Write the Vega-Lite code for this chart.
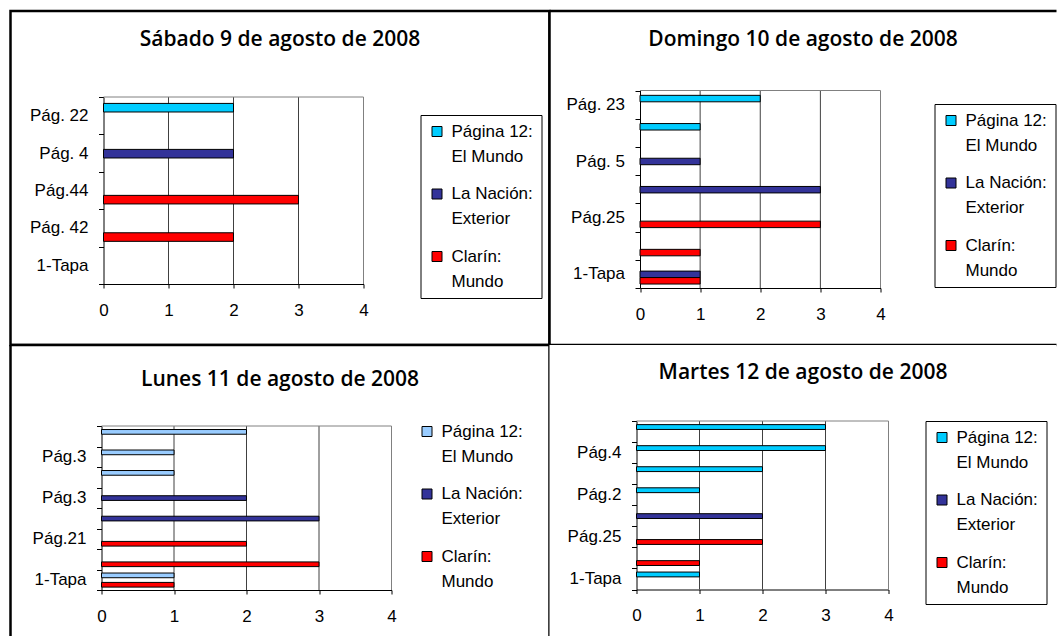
{
  "$schema": "https://vega.github.io/schema/vega-lite/v6.json",
  "background": "white",
  "padding": {"left": 8.5, "top": 0, "right": 0, "bottom": 0},
  "bounds": "flush",
  "spacing": 0,
  "columns": 2,
  "resolve": {
    "scale": {"color": "independent", "x": "independent", "y": "independent", "yOffset": "independent"},
    "legend": {"color": "independent"}
  },
  "data": {"values": [
    {"day": "sab", "cat": "1|Pág. 22", "series": "Página 12: El Mundo", "count": 2},
    {"day": "sab", "cat": "2|Pág. 4", "series": "La Nación: Exterior", "count": 2},
    {"day": "sab", "cat": "3|Pág.44", "series": "Clarín: Mundo", "count": 3},
    {"day": "sab", "cat": "4|Pág. 42", "series": "Clarín: Mundo", "count": 2},

    {"day": "dom", "cat": "1|Pág. 23", "series": "Página 12: El Mundo", "count": 2},
    {"day": "dom", "cat": "2|", "series": "Página 12: El Mundo", "count": 1},
    {"day": "dom", "cat": "3|Pág. 5", "series": "La Nación: Exterior", "count": 1},
    {"day": "dom", "cat": "4|", "series": "La Nación: Exterior", "count": 3},
    {"day": "dom", "cat": "5|Pág.25", "series": "Clarín: Mundo", "count": 3},
    {"day": "dom", "cat": "6|", "series": "Clarín: Mundo", "count": 1},
    {"day": "dom", "cat": "7|1-Tapa", "series": "La Nación: Exterior", "count": 1},
    {"day": "dom", "cat": "7|1-Tapa", "series": "Clarín: Mundo", "count": 1},

    {"day": "lun", "cat": "1|", "series": "Página 12: El Mundo", "count": 2},
    {"day": "lun", "cat": "2|Pág.3", "series": "Página 12: El Mundo", "count": 1},
    {"day": "lun", "cat": "3|", "series": "Página 12: El Mundo", "count": 1},
    {"day": "lun", "cat": "4|Pág.3", "series": "La Nación: Exterior", "count": 2},
    {"day": "lun", "cat": "5|", "series": "La Nación: Exterior", "count": 3},
    {"day": "lun", "cat": "6|Pág.21", "series": "Clarín: Mundo", "count": 2},
    {"day": "lun", "cat": "7|", "series": "Clarín: Mundo", "count": 3},
    {"day": "lun", "cat": "8|1-Tapa", "series": "Página 12: El Mundo", "count": 1},
    {"day": "lun", "cat": "8|1-Tapa", "series": "Clarín: Mundo", "count": 1},

    {"day": "mar", "cat": "1|", "series": "Página 12: El Mundo", "count": 3},
    {"day": "mar", "cat": "2|Pág.4", "series": "Página 12: El Mundo", "count": 3},
    {"day": "mar", "cat": "3|", "series": "Página 12: El Mundo", "count": 2},
    {"day": "mar", "cat": "4|Pág.2", "series": "Página 12: El Mundo", "count": 1},
    {"day": "mar", "cat": "5|", "series": "La Nación: Exterior", "count": 2},
    {"day": "mar", "cat": "6|Pág.25", "series": "Clarín: Mundo", "count": 2},
    {"day": "mar", "cat": "7|", "series": "Clarín: Mundo", "count": 1},
    {"day": "mar", "cat": "8|1-Tapa", "series": "Página 12: El Mundo", "count": 1}
  ]},
  "concat": [
    {
      "width": 539, "height": 334,
      "view": {"stroke": "black", "strokeWidth": 2.5, "fill": "white"},
      "title": {"text": "Sábado 9 de agosto de 2008", "offset": -48},
      "layer": [
        {
          "data": {"values": [{"g": 1}, {"g": 2}, {"g": 3}, {"g": 4}]},
          "mark": {"type": "rule", "strokeWidth": 1},
          "encoding": {
            "x": {"field": "g", "type": "quantitative", "title": null},
            "y": {"datum": "1|Pág. 22", "type": "nominal", "bandPosition": 0, "title": null},
            "y2": {"datum": "5|1-Tapa", "bandPosition": 1},
            "color": {"condition": {"test": "datum.g === 4", "value": "#808080"}, "value": "#404040"}
          }
        },
        {
          "data": {"values": [{}]},
          "mark": {"type": "rule", "color": "#808080", "strokeWidth": 1},
          "encoding": {
            "y": {"datum": "1|Pág. 22", "type": "nominal", "bandPosition": 0, "title": null},
            "x": {"datum": 0, "type": "quantitative", "title": null},
            "x2": {"datum": 4}
          }
        },
        {
          "transform": [{"filter": "datum.day === 'sab'"}],
          "mark": {"type": "bar", "stroke": "black", "strokeWidth": 1},
          "encoding": {
            "x": {"field": "count", "type": "quantitative",
                  "scale": {"domain": [0, 4], "range": [93, 353], "nice": false},
                  "axis": {"title": null, "offset": -61, "values": [0, 1, 2, 3, 4], "format": "d", "grid": false, "labelFlush": false, "labelOverlap": false}},
            "y": {"field": "cat", "type": "nominal",
                  "scale": {"domain": ["1|Pág. 22", "2|Pág. 4", "3|Pág.44", "4|Pág. 42", "5|1-Tapa"], "range": [86, 273], "paddingInner": 0, "paddingOuter": 0},
                  "axis": {"title": null, "offset": -93, "tickBand": "extent", "labelExpr": "split(datum.value, '|')[1]", "labelOverlap": false}},
            "yOffset": {"field": "series", "type": "nominal",
                  "scale": {"domain": ["Página 12: El Mundo", "La Nación: Exterior", "Clarín: Mundo"], "paddingInner": 0, "paddingOuter": 0.68, "align": 0.55}},
            "color": {"field": "series", "type": "nominal",
                  "scale": {"domain": ["Página 12: El Mundo", "La Nación: Exterior", "Clarín: Mundo"], "range": ["#00CCFF", "#333399", "#FF0000"]},
                  "legend": {"title": null, "orient": "none", "legendX": 410, "legendY": 104,
                             "labelExpr": "[split(datum.label, ': ')[0] + ':', split(datum.label, ': ')[1]]"}}
          }
        }
      ]
    },
    {
      "width": 507, "height": 334,
      "view": {"stroke": "black", "strokeWidth": 2.5, "fill": "white", "strokeDash": [507, 334, 841, 0]},
      "title": {"text": "Domingo 10 de agosto de 2008", "offset": -48},
      "layer": [
        {
          "data": {"values": [{"g": 1}, {"g": 2}, {"g": 3}, {"g": 4}]},
          "mark": {"type": "rule", "strokeWidth": 1},
          "encoding": {
            "x": {"field": "g", "type": "quantitative", "title": null},
            "y": {"datum": "1|Pág. 23", "type": "nominal", "bandPosition": 0, "title": null},
            "y2": {"datum": "7|1-Tapa", "bandPosition": 1},
            "color": {"condition": {"test": "datum.g === 4", "value": "#808080"}, "value": "#404040"}
          }
        },
        {
          "data": {"values": [{}]},
          "mark": {"type": "rule", "color": "#808080", "strokeWidth": 1},
          "encoding": {
            "y": {"datum": "1|Pág. 23", "type": "nominal", "bandPosition": 0, "title": null},
            "x": {"datum": 0, "type": "quantitative", "title": null},
            "x2": {"datum": 4}
          }
        },
        {
          "transform": [{"filter": "datum.day === 'dom'"}],
          "mark": {"type": "bar", "stroke": "black", "strokeWidth": 1},
          "encoding": {
            "x": {"field": "count", "type": "quantitative",
                  "scale": {"domain": [0, 4], "range": [90.5, 331], "nice": false},
                  "axis": {"title": null, "offset": -57, "values": [0, 1, 2, 3, 4], "format": "d", "grid": false, "labelFlush": false, "labelOverlap": false}},
            "y": {"field": "cat", "type": "nominal",
                  "scale": {"domain": ["1|Pág. 23", "2|", "3|Pág. 5", "4|", "5|Pág.25", "6|", "7|1-Tapa"], "range": [79.5, 277], "paddingInner": 0, "paddingOuter": 0},
                  "axis": {"title": null, "offset": -90.5, "tickBand": "extent", "labelExpr": "split(datum.value, '|')[1]", "labelOverlap": false}},
            "yOffset": {"field": "series", "type": "nominal",
                  "scale": {"domain": ["Página 12: El Mundo", "La Nación: Exterior", "Clarín: Mundo"], "paddingInner": 0, "paddingOuter": 0.68, "align": 0.55}},
            "color": {"field": "series", "type": "nominal",
                  "scale": {"domain": ["Página 12: El Mundo", "La Nación: Exterior", "Clarín: Mundo"], "range": ["#00CCFF", "#333399", "#FF0000"]},
                  "legend": {"title": null, "orient": "none", "legendX": 385, "legendY": 93,
                             "labelExpr": "[split(datum.label, ': ')[0] + ':', split(datum.label, ': ')[1]]"}}
          }
        }
      ]
    },
    {
      "width": 539, "height": 291,
      "view": {"stroke": "black", "strokeWidth": 2.5, "fill": "white", "strokeDash": [830, 539, 291, 0]},
      "title": {"text": "Lunes 11 de agosto de 2008", "offset": -54},
      "layer": [
        {
          "data": {"values": [{"g": 1}, {"g": 2}, {"g": 3}, {"g": 4}]},
          "mark": {"type": "rule", "strokeWidth": 1},
          "encoding": {
            "x": {"field": "g", "type": "quantitative", "title": null},
            "y": {"datum": "1|", "type": "nominal", "bandPosition": 0, "title": null},
            "y2": {"datum": "8|1-Tapa", "bandPosition": 1},
            "color": {"condition": {"test": "datum.g === 4", "value": "#808080"}, "value": "#404040"}
          }
        },
        {
          "data": {"values": [{}]},
          "mark": {"type": "rule", "color": "#808080", "strokeWidth": 1},
          "encoding": {
            "y": {"datum": "1|", "type": "nominal", "bandPosition": 0, "title": null},
            "x": {"datum": 0, "type": "quantitative", "title": null},
            "x2": {"datum": 4}
          }
        },
        {
          "transform": [{"filter": "datum.day === 'lun'"}],
          "mark": {"type": "bar", "stroke": "black", "strokeWidth": 1},
          "encoding": {
            "x": {"field": "count", "type": "quantitative",
                  "scale": {"domain": [0, 4], "range": [91, 381], "nice": false},
                  "axis": {"title": null, "offset": -46, "values": [0, 1, 2, 3, 4], "format": "d", "grid": false, "labelFlush": false, "labelOverlap": false}},
            "y": {"field": "cat", "type": "nominal",
                  "scale": {"domain": ["1|", "2|Pág.3", "3|", "4|Pág.3", "5|", "6|Pág.21", "7|", "8|1-Tapa"], "range": [81, 245], "paddingInner": 0, "paddingOuter": 0},
                  "axis": {"title": null, "offset": -91, "tickBand": "extent", "labelExpr": "split(datum.value, '|')[1]", "labelOverlap": false}},
            "yOffset": {"field": "series", "type": "nominal",
                  "scale": {"domain": ["Página 12: El Mundo", "La Nación: Exterior", "Clarín: Mundo"], "paddingInner": 0, "paddingOuter": 0.68, "align": 0.55}},
            "color": {"field": "series", "type": "nominal",
                  "scale": {"domain": ["Página 12: El Mundo", "La Nación: Exterior", "Clarín: Mundo"], "range": ["#99CCFF", "#333399", "#FF0000"]},
                  "legend": {"title": null, "orient": "none", "legendX": 400, "legendY": 70, "strokeColor": "white",
                             "labelExpr": "[split(datum.label, ': ')[0] + ':', split(datum.label, ': ')[1]]"}}
          }
        }
      ]
    },
    {
      "width": 507, "height": 291,
      "view": {"stroke": null, "fill": "white"},
      "title": {"text": "Martes 12 de agosto de 2008", "offset": -47},
      "layer": [
        {
          "data": {"values": [{"g": 1}, {"g": 2}, {"g": 3}, {"g": 4}]},
          "mark": {"type": "rule", "strokeWidth": 1},
          "encoding": {
            "x": {"field": "g", "type": "quantitative", "title": null},
            "y": {"datum": "1|", "type": "nominal", "bandPosition": 0, "title": null},
            "y2": {"datum": "8|1-Tapa", "bandPosition": 1},
            "color": {"condition": {"test": "datum.g === 4", "value": "#808080"}, "value": "#404040"}
          }
        },
        {
          "data": {"values": [{}]},
          "mark": {"type": "rule", "color": "#808080", "strokeWidth": 1},
          "encoding": {
            "y": {"datum": "1|", "type": "nominal", "bandPosition": 0, "title": null},
            "x": {"datum": 0, "type": "quantitative", "title": null},
            "x2": {"datum": 4}
          }
        },
        {
          "transform": [{"filter": "datum.day === 'mar'"}],
          "mark": {"type": "bar", "stroke": "black", "strokeWidth": 1},
          "encoding": {
            "x": {"field": "count", "type": "quantitative",
                  "scale": {"domain": [0, 4], "range": [87, 339], "nice": false},
                  "axis": {"title": null, "offset": -46.5, "values": [0, 1, 2, 3, 4], "format": "d", "grid": false, "labelFlush": false, "labelOverlap": false}},
            "y": {"field": "cat", "type": "nominal",
                  "scale": {"domain": ["1|", "2|Pág.4", "3|", "4|Pág.2", "5|", "6|Pág.25", "7|", "8|1-Tapa"], "range": [76, 244.5], "paddingInner": 0, "paddingOuter": 0},
                  "axis": {"title": null, "offset": -87, "tickBand": "extent", "labelExpr": "split(datum.value, '|')[1]", "labelOverlap": false}},
            "yOffset": {"field": "series", "type": "nominal",
                  "scale": {"domain": ["Página 12: El Mundo", "La Nación: Exterior", "Clarín: Mundo"], "paddingInner": 0, "paddingOuter": 0.68, "align": 0.55}},
            "color": {"field": "series", "type": "nominal",
                  "scale": {"domain": ["Página 12: El Mundo", "La Nación: Exterior", "Clarín: Mundo"], "range": ["#00CCFF", "#333399", "#FF0000"]},
                  "legend": {"title": null, "orient": "none", "legendX": 376, "legendY": 76,
                             "labelExpr": "[split(datum.label, ': ')[0] + ':', split(datum.label, ': ')[1]]"}}
          }
        }
      ]
    }
  ],
  "config": {
    "font": "Liberation Sans",
    "title": {"font": "Open Sans", "fontSize": 21, "fontWeight": 600, "color": "black", "anchor": "middle", "baseline": "middle"},
    "axis": {"labelFont": "Liberation Sans", "labelFontSize": 17, "labelColor": "black", "domainColor": "black", "domainWidth": 1, "tickColor": "black", "tickWidth": 1},
    "axisX": {"tickSize": 4, "labelPadding": 14, "labelFontSize": 17},
    "axisY": {"tickSize": 5, "labelPadding": 10.5, "grid": false, "labelFontSize": 17},
    "legend": {"labelFont": "Liberation Sans", "labelFontSize": 17, "labelColor": "black", "strokeColor": "black", "fillColor": "white", "padding": 8,
               "symbolType": "square", "symbolSize": 100, "symbolStrokeColor": "black", "symbolStrokeWidth": 1,
               "rowPadding": 19.5, "labelOffset": 6},
    "style": {"guide-label": {"lineHeight": 25, "fontSize": 17, "font": "Liberation Sans"}}
  }
}
